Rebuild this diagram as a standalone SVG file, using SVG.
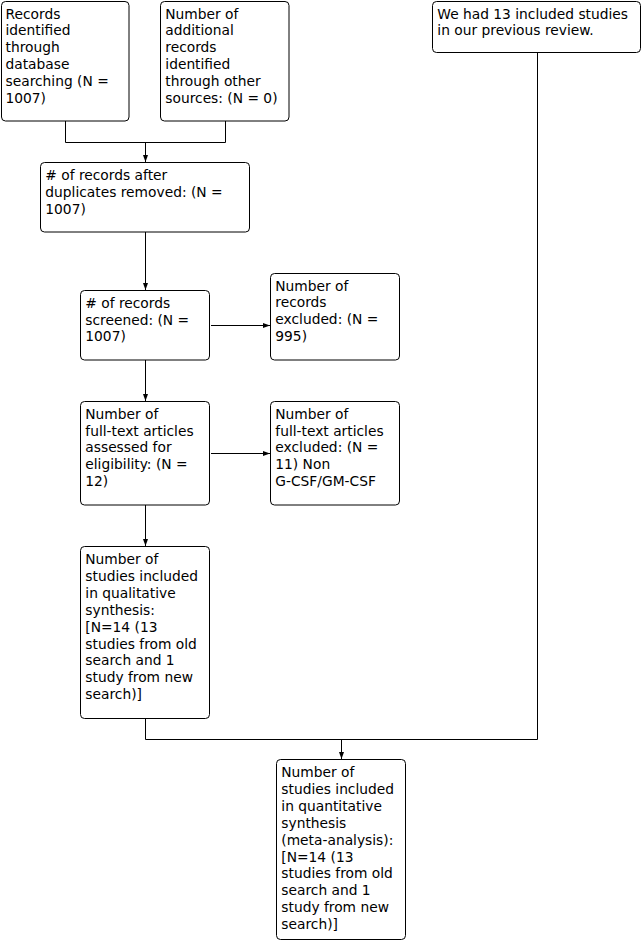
<svg xmlns="http://www.w3.org/2000/svg" width="642" height="949" viewBox="0 0 642 949">
<defs>
<marker id="arr" markerUnits="userSpaceOnUse" markerWidth="8" markerHeight="6" refX="7" refY="3" orient="auto">
<path d="M0,0.5 L7,3 L0,5.5 z" fill="#000"/>
</marker>
<style>
.box{fill:#fff;stroke:#000;stroke-width:1}
.t{font-family:"DejaVu Sans",Verdana,sans-serif;font-size:13.8px;fill:#000}
.c{fill:none;stroke:#000;stroke-width:1}
</style>
</defs>
<rect width="642" height="949" fill="#fff"/>
<g id="connectors">
<path class="c" d="M65.5,121 V142.5 H225.5 V121"/>
<path class="c" d="M145.5,142.5 V162" marker-end="url(#arr)"/>
<path class="c" d="M145.5,232 V290" marker-end="url(#arr)"/>
<path class="c" d="M211,325.5 H270" marker-end="url(#arr)"/>
<path class="c" d="M145.5,360 V401" marker-end="url(#arr)"/>
<path class="c" d="M211,453.5 H270" marker-end="url(#arr)"/>
<path class="c" d="M145.5,505 V546" marker-end="url(#arr)"/>
<path class="c" d="M145.5,718.5 V739.5 H537.5 V52.5"/>
<path class="c" d="M341.5,739.5 V759" marker-end="url(#arr)"/>
</g>
<g id="n1">
<rect class="box" x="1.5" y="1.5" width="127.5" height="119.5" rx="4"/>
<text class="t" x="5.5"><tspan x="5.5" y="18.5">Records</tspan><tspan x="5.5" y="35.3">identified</tspan><tspan x="5.5" y="52.1">through</tspan><tspan x="5.5" y="68.9">database</tspan><tspan x="5.5" y="85.7">searching (N =</tspan><tspan x="5.5" y="102.5">1007)</tspan></text>
</g>
<g id="n2">
<rect class="box" x="160.5" y="1.5" width="128.5" height="119.5" rx="4"/>
<text class="t"><tspan x="165.3" y="18.5">Number of</tspan><tspan x="165.3" y="35.3">additional</tspan><tspan x="165.3" y="52.1">records</tspan><tspan x="165.3" y="68.9">identified</tspan><tspan x="165.3" y="85.7">through other</tspan><tspan x="165.3" y="102.5">sources: (N = 0)</tspan></text>
</g>
<g id="n3">
<rect class="box" x="40.5" y="162.5" width="209" height="69.5" rx="4"/>
<text class="t"><tspan x="45.3" y="180">#  of records after</tspan><tspan x="45.3" y="196.8">duplicates removed: (N =</tspan><tspan x="45.3" y="213.6">1007)</tspan></text>
</g>
<g id="n4">
<rect class="box" x="432.5" y="1.5" width="208" height="51" rx="4"/>
<text class="t"><tspan x="437.3" y="18.5">We had 13 included studies</tspan><tspan x="437.3" y="35.3">in our previous review.</tspan></text>
</g>
<g id="n5">
<rect class="box" x="80.5" y="290.5" width="129" height="69.5" rx="4"/>
<text class="t"><tspan x="85.3" y="307.7">#  of records</tspan><tspan x="85.3" y="324.5">screened: (N =</tspan><tspan x="85.3" y="341.3">1007)</tspan></text>
</g>
<g id="n6">
<rect class="box" x="270.5" y="273.5" width="129" height="86.5" rx="4"/>
<text class="t"><tspan x="275.3" y="290.5">Number of</tspan><tspan x="275.3" y="307.3">records</tspan><tspan x="275.3" y="324.1">excluded: (N =</tspan><tspan x="275.3" y="340.9">995)</tspan></text>
</g>
<g id="n7">
<rect class="box" x="80.5" y="401.5" width="129" height="103.5" rx="4"/>
<text class="t"><tspan x="85.3" y="418.7">Number of</tspan><tspan x="85.3" y="435.5">full-text articles</tspan><tspan x="85.3" y="452.3">assessed for</tspan><tspan x="85.3" y="469.1">eligibility: (N =</tspan><tspan x="85.3" y="485.9">12)</tspan></text>
</g>
<g id="n8">
<rect class="box" x="270.5" y="401.5" width="129" height="103.5" rx="4"/>
<text class="t"><tspan x="275.3" y="418.7">Number of</tspan><tspan x="275.3" y="435.5">full-text articles</tspan><tspan x="275.3" y="452.3">excluded: (N =</tspan><tspan x="275.3" y="469.1">11) Non</tspan><tspan x="275.3" y="485.9">G-CSF/GM-CSF</tspan></text>
</g>
<g id="n9">
<rect class="box" x="80.5" y="546.5" width="129" height="172" rx="4"/>
<text class="t"><tspan x="85.3" y="564">Number of</tspan><tspan x="85.3" y="580.9">studies included</tspan><tspan x="85.3" y="597.8">in qualitative</tspan><tspan x="85.3" y="614.7">synthesis:</tspan><tspan x="85.3" y="631.6">[N=14 (13</tspan><tspan x="85.3" y="648.5">studies from old</tspan><tspan x="85.3" y="665.4">search and 1</tspan><tspan x="85.3" y="682.3">study from new</tspan><tspan x="85.3" y="699.2">search)]</tspan></text>
</g>
<g id="n10">
<rect class="box" x="276.5" y="759.5" width="129" height="180" rx="4"/>
<text class="t"><tspan x="281.3" y="777">Number of</tspan><tspan x="281.3" y="793.9">studies included</tspan><tspan x="281.3" y="810.8">in quantitative</tspan><tspan x="281.3" y="827.7">synthesis</tspan><tspan x="281.3" y="844.6">(meta-analysis):</tspan><tspan x="281.3" y="861.5">[N=14 (13</tspan><tspan x="281.3" y="878.4">studies from old</tspan><tspan x="281.3" y="895.3">search and 1</tspan><tspan x="281.3" y="912.2">study from new</tspan><tspan x="281.3" y="929.1">search)]</tspan></text>
</g>
</svg>
